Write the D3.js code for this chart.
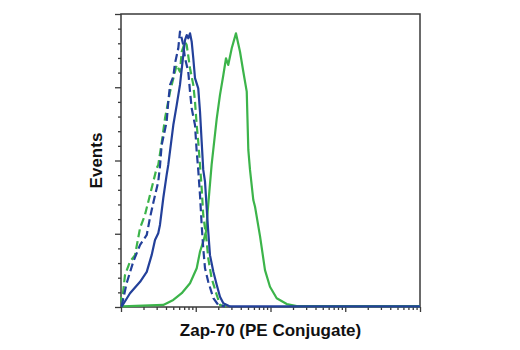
<!DOCTYPE html>
<html>
<head>
<meta charset="utf-8">
<script src="https://cdn.jsdelivr.net/npm/d3@7"></script>
<style>
html,body{margin:0;padding:0;background:#fff;}
svg{display:block;}
</style>
</head>
<body>
<svg id="chart" width="520" height="350"></svg>
<script>
// ---- data (fluorescence intensity, % of max events) ----
const solidBlueX = [1.02,1.32,1.80,2.21,2.57,2.85,3.15,3.32,3.68,4.08,4.29,5.01,5.56,6.15,6.81,7.18,7.57,7.94,8.38,8.83,9.27,9.77,10.8,11.4,12.0,12.6,13.3,14.0,14.7,15.5,17.2,19.1,21.1,23.4,28.7,250,10000];
const solidBlueY = [0.1,4.7,8.6,12.0,17.7,22.9,25.2,28.0,37.2,45.1,48.5,62.1,68.9,75.8,86.0,91.1,92.8,91.7,93.4,90.5,84.9,78.1,74.6,66.7,56.4,46.8,42.8,33.8,25.7,17.7,12.0,7.5,3.5,1.3,0.2,0.2,0.2];

const dashedBlueX = [1.02,1.19,1.46,1.80,2.21,2.44,2.70,3.15,3.32,3.50,4.08,4.29,4.53,5.01,5.28,5.84,6.15,6.49,6.81,7.18,7.94,8.38,8.83,9.77,10.3,10.8,11.4,12.0,12.6,13.3,14.7,17.2,20.0,24.6];
const dashedBlueY = [0.3,8.1,15.5,21.2,24.6,30.4,35.5,42.8,48.0,55.3,63.2,70.1,75.8,78.6,83.2,88.3,94.0,91.7,89.4,84.9,80.3,73.5,67.8,62.1,53.0,46.8,38.2,28.0,20.0,13.2,8.6,3.0,0.7,0.2];

const dashedGreenX = [1.02,1.13,1.32,1.54,1.80,2.09,2.57,3.00,3.15,3.50,3.88,4.53,5.56,6.15,6.49,7.18,7.57,8.38,9.27,9.77,10.3,10.8,11.4,12.0,12.6,14.0,14.7,16.3,19.1,21.1,25.4];
const dashedGreenY = [0.3,10.9,15.5,17.7,27.0,31.4,40.5,47.4,48.5,56.0,64.4,73.5,82.6,80.3,87.1,90.5,89.4,81.5,75.8,70.1,62.1,56.4,48.5,40.5,31.4,22.3,16.6,9.8,4.1,0.7,0.2];

const solidGreenX = [1.0,1.05,3.68,5.01,6.49,8.38,10.3,11.4,12.6,13.7,14.3,15.2,16.3,19.1,21.1,23.4,25.4,27.2,30.3,34.5,39.1,43.3,48.1,50.5,53.2,58.9,62.1,72.4,84.4,98.4,121,165,224,10000];
const solidGreenY = [3.4,0.2,0.7,2.4,4.7,8.1,13.2,18.9,22.3,25.7,31.4,39.4,48.5,64.4,72.4,79.2,84.9,82.6,88.3,93.4,87.1,80.3,73.5,53.6,46.8,36.5,34.2,24.2,12.6,6.9,3.0,1.0,0.3,0.3];

const xDomain = [1, 10000];
const yDomain = [0, 100];
const yMajorTicks = [0, 25, 50, 75, 100];
const yMinorStep = 5;
const xTitle = "Zap-70 (PE Conjugate)";
const yTitle = "Events";

// ---- drawing ----
const svg = d3.select("#chart");
const L = 121, R = 420, T = 14, B = 307;
const x = d3.scaleLog().domain(xDomain).range([L, R]);
const y = d3.scaleLinear().domain(yDomain).range([B, T]);

const axisColor = "#3a3a3a";

// frame
svg.append("rect").attr("x", L).attr("y", T).attr("width", R - L).attr("height", B - T)
  .attr("fill", "none").attr("stroke", axisColor).attr("stroke-width", 1.5);

// y axis: major and minor ticks
const yMinor = d3.range(yDomain[0], yDomain[1] + 0.001, yMinorStep).filter(v => !yMajorTicks.includes(v));
const yAxisMajor = d3.axisLeft(y).tickValues(yMajorTicks).tickSize(6).tickFormat("");
const yAxisMinor = d3.axisLeft(y).tickValues(yMinor).tickSize(3).tickFormat("");
[yAxisMajor, yAxisMinor].forEach(ax => {
  const g = svg.append("g").attr("transform", `translate(${L},0)`).call(ax);
  g.select(".domain").remove();
  g.selectAll("line").attr("stroke", axisColor).attr("stroke-width", 1.3);
});

// x axis: log decades and minor ticks
const xMajor = [1, 10, 100, 1000, 10000];
const xMinor = [];
for (let d = 1; d < 10000; d *= 10) for (let k = 2; k <= 9; k++) xMinor.push(k * d);
const xAxisMajor = d3.axisBottom(x).tickValues(xMajor).tickSize(5).tickFormat("");
const xAxisMinor = d3.axisBottom(x).tickValues(xMinor).tickSize(3).tickFormat("");
[xAxisMajor, xAxisMinor].forEach(ax => {
  const g = svg.append("g").attr("transform", `translate(0,${B})`).call(ax);
  g.select(".domain").remove();
  g.selectAll("line").attr("stroke", axisColor).attr("stroke-width", 1.3);
});

// curves
const line = d3.line().x(d => x(d[0])).y(d => y(d[1]));
const blue = "#23409a", green = "#3cb44a";
const series = [
  {xs: solidGreenX, ys: solidGreenY, color: green, dash: null},
  {xs: dashedGreenX, ys: dashedGreenY, color: green, dash: "8,4"},
  {xs: dashedBlueX, ys: dashedBlueY, color: blue, dash: "8,4"},
  {xs: solidBlueX, ys: solidBlueY, color: blue, dash: null}
];
series.forEach(s => {
  const pts = s.xs.map((v, i) => [v, s.ys[i]]);
  svg.append("path").datum(pts).attr("d", line)
    .attr("fill", "none").attr("stroke", s.color).attr("stroke-width", 2.2)
    .attr("stroke-linejoin", "round")
    .attr("stroke-dasharray", s.dash);
});

// titles
const font = "'Liberation Sans Narrow','Arial Narrow','Liberation Sans',Arial,sans-serif";
svg.append("text").attr("x", (L + R) / 2).attr("y", 336).attr("text-anchor", "middle")
  .attr("font-family", font).attr("font-weight", "bold").attr("font-size", 17)
  .attr("fill", "#111").text(xTitle);
svg.append("text").attr("transform", `translate(102,${(T + B) / 2}) rotate(-90)`)
  .attr("text-anchor", "middle")
  .attr("font-family", font).attr("font-weight", "bold").attr("font-size", 17)
  .attr("fill", "#111").text(yTitle);
</script>
</body>
</html>
